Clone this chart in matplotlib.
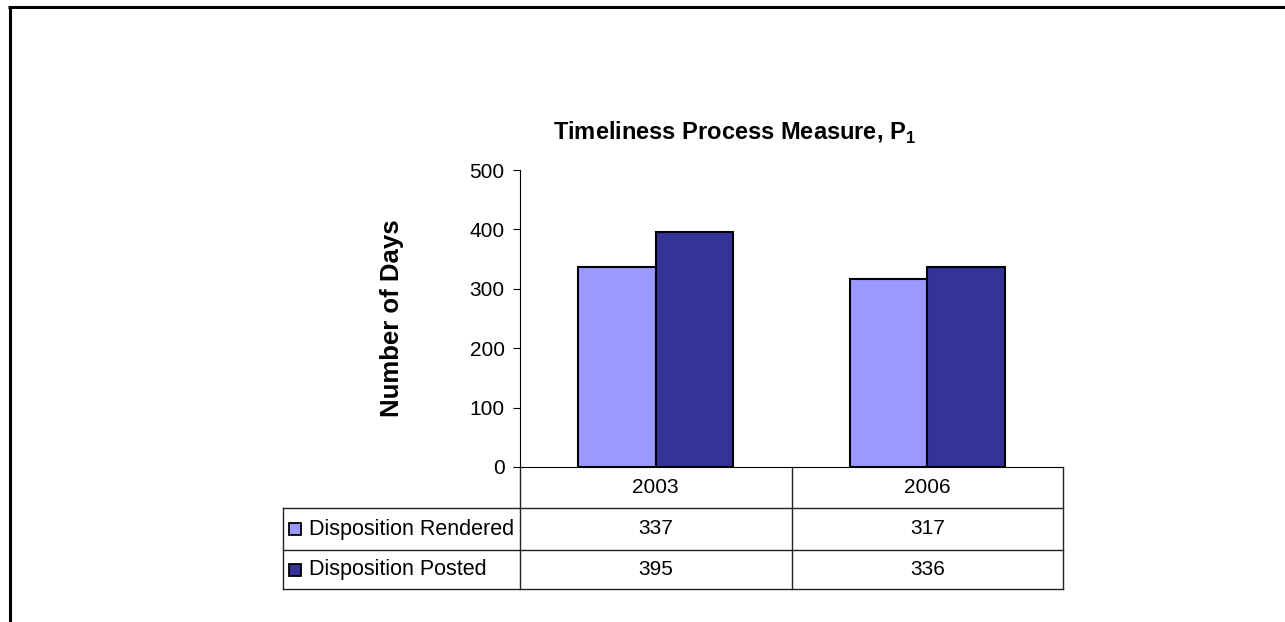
import matplotlib
matplotlib.use('Agg')
import matplotlib.pyplot as plt
from matplotlib.lines import Line2D
from matplotlib.patches import Rectangle
import numpy as np

# 数据
years = ['2003', '2006']
series_names = ['Disposition Rendered', 'Disposition Posted']
rendered = [337, 317]
posted = [395, 336]
colors = ['#9999FF', '#333399']

plt.rcParams['font.family'] = ['Liberation Sans', 'DejaVu Sans']
plt.rcParams['mathtext.fontset'] = 'custom'
plt.rcParams['mathtext.rm'] = 'Liberation Sans'
plt.rcParams['mathtext.bf'] = 'Liberation Sans:bold'

W, H = 1285, 622
fig = plt.figure(figsize=(W / 100, H / 100), dpi=100)

# 坐标轴位置(像素)
x0, x1 = 520, 1063
y_top, y_zero = 170, 467
ax = fig.add_axes([x0 / W, 1 - y_zero / H, (x1 - x0) / W, (y_zero - y_top) / H])

x = np.arange(len(years))
bw = 0.285
ax.bar(x - bw / 2, rendered, bw, color=colors[0], edgecolor='black', linewidth=1.5, zorder=3)
ax.bar(x + bw / 2, posted, bw, color=colors[1], edgecolor='black', linewidth=1.5, zorder=3)

ax.set_xlim(-0.5, len(years) - 0.5)
ax.set_ylim(0, 500)
ax.set_yticks([0, 100, 200, 300, 400, 500])
ax.tick_params(axis='y', labelsize=15, length=5, width=0.8, pad=6, direction='out')
ax.set_xticks([])
for s in ['top', 'right']:
    ax.spines[s].set_visible(False)
ax.spines['left'].set_linewidth(0.8)
ax.spines['bottom'].set_linewidth(0.8)
ax.set_ylabel('Number of Days', fontsize=18.5, fontweight='bold')
ax.yaxis.set_label_coords((404 - x0) / (x1 - x0), 0.5)

# 下方数据表
def ay(py):
    return (y_zero - py) / (y_zero - y_top)

def axx(px):
    return (px - x0) / (x1 - x0)

rows_y = [ay(467), ay(508), ay(550), ay(589)]
left = axx(283)
lk = dict(transform=ax.transAxes, clip_on=False, color='#222222', linewidth=1)
for yy in rows_y[1:]:
    ax.add_line(Line2D([left, 1], [yy, yy], **lk))
ax.add_line(Line2D([left, left], [rows_y[1], rows_y[3]], **lk))
for i in range(len(years) + 1):
    xx = i / len(years)
    ax.add_line(Line2D([xx, xx], [rows_y[0], rows_y[3]], **lk))

for i, yr in enumerate(years):
    cx = (i + 0.5) / len(years)
    ax.text(cx, (rows_y[0] + rows_y[1]) / 2, yr, transform=ax.transAxes,
            ha='center', va='center', fontsize=15)
    ax.text(cx, (rows_y[1] + rows_y[2]) / 2, str(rendered[i]), transform=ax.transAxes,
            ha='center', va='center', fontsize=15)
    ax.text(cx, (rows_y[2] + rows_y[3]) / 2, str(posted[i]), transform=ax.transAxes,
            ha='center', va='center', fontsize=15)

for j, name in enumerate(series_names):
    cy = (rows_y[j + 1] + rows_y[j + 2]) / 2
    ax.text(axx(309), cy, name, transform=ax.transAxes, ha='left', va='center', fontsize=15.5)
    fy = 1 - ((y_zero - cy * (y_zero - y_top))) / H
    sq = 12
    fig.add_artist(Rectangle((289 / W, fy - sq / 2 / H), sq / W, sq / H,
                             facecolor=colors[j], edgecolor='black', linewidth=1.3,
                             transform=fig.transFigure))

# 标题
fig.text(734 / W, 1 - 133 / H, r'Timeliness Process Measure, P$_\mathbf{1}$',
         ha='center', va='center', fontsize=17, fontweight='bold')

# 外框
fig.add_artist(Line2D([9.5 / W, 9.5 / W], [0, 1 - 5.5 / H], color='black', linewidth=2.2,
                      solid_capstyle='butt', transform=fig.transFigure))
fig.add_artist(Line2D([8 / W, 1], [1 - 7 / H, 1 - 7 / H], color='black', linewidth=2.2,
                      solid_capstyle='butt', transform=fig.transFigure))

fig.savefig('out.png', dpi=100)
